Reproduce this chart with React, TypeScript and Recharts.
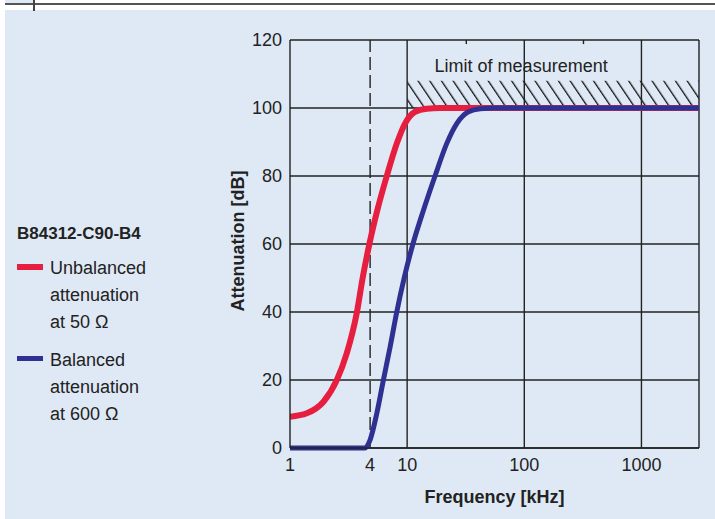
import React from 'react';
import {
    LineChart, Line, XAxis, YAxis, CartesianGrid, ReferenceLine, ReferenceArea, ReferenceDot,
} from 'recharts';

// frequency positions (kHz, log axis)
const RED_FREQ = [1, 1.39, 1.93, 2.51, 3.05, 3.72, 4.17, 4.76, 5.57, 6.7, 8.17, 9.61, 11.7, 14.7, 19.1, 3100];
const RED_ATT = [9.2, 10.2, 13.6, 20, 27.8, 39.8, 50, 60, 70, 80, 89.6, 95.5, 98.9, 99.8, 100, 100];

const BLUE_FREQ = [1, 4.37, 4.83, 5.51, 6.27, 7.16, 8.13, 9.43, 11.2, 13.8, 17.3, 21.8, 26.6, 33.4, 42.1, 56.5, 3100];
const BLUE_ATT = [0, 0, 2.4, 10.2, 20, 29.8, 39.8, 50, 60, 70, 80, 89.6, 95.5, 98.9, 99.8, 100, 100];

const X_TICKS = [1, 4.83, 10, 100, 1000];
const X_TICK_LABELS = ['1', '4', '10', '100', '1000'];
const Y_TICKS = [0, 20, 40, 60, 80, 100, 120];
const GRID_X = [10, 100, 1000, 3100];
const MINOR_TOP_X = [32, 320];
const CUTOFF_X = 4.83;
const LIMIT = { from: 10, to: 3100, low: 100, high: 108 };

const redData = RED_FREQ.map((f, i) => ({ f, att: RED_ATT[i] }));
const blueData = BLUE_FREQ.map((f, i) => ({ f, att: BLUE_ATT[i] }));

const RED = '#e61e3f';
const BLUE = '#2e3192';
const INK = '#222';
const FONT = '"Liberation Sans", Arial, sans-serif';

export default function App() {
    return (
        <div style={{ position: 'absolute', left: 0, top: 0, width: 715, height: 519, background: '#fff', fontFamily: FONT, color: INK }}>
            <div style={{ position: 'absolute', left: 5, top: 10, width: 710, height: 509, background: '#dfe9f5' }} />
            <div style={{ position: 'absolute', left: 5, top: 0, width: 28, height: 3, background: '#dfe9f5' }} />
            <div style={{ position: 'absolute', left: 5, top: 3, width: 710, height: 2, background: '#555' }} />
            <div style={{ position: 'absolute', left: 33, top: 0, width: 2, height: 11, background: '#444' }} />

            <div style={{ position: 'absolute', left: 17, top: 220, fontSize: 17, fontWeight: 'bold', lineHeight: '27px' }}>B84312-C90-B4</div>
            <div style={{ position: 'absolute', left: 17, top: 264, width: 26, height: 6, background: RED }} />
            <div style={{ position: 'absolute', left: 50, top: 255, fontSize: 18, lineHeight: '27px' }}>
                Unbalanced<br />attenuation<br />at 50 Ω
            </div>
            <div style={{ position: 'absolute', left: 17, top: 356, width: 26, height: 5, background: BLUE }} />
            <div style={{ position: 'absolute', left: 50, top: 347, fontSize: 18, lineHeight: '27px' }}>
                Balanced<br />attenuation<br />at 600 Ω
            </div>

            <div style={{ position: 'absolute', left: 0, top: 0 }}>
                <LineChart width={715} height={519} margin={{ top: 40, right: 16, bottom: 0, left: 230 }}>
                    <defs>
                        <pattern id="hatch" patternUnits="userSpaceOnUse" width="9.7" height="9.7" patternTransform="rotate(-34)">
                            <line x1="0" y1="0" x2="0" y2="9.7" stroke="#111" strokeWidth="2.6" />
                        </pattern>
                    </defs>
                    <CartesianGrid vertical={false} stroke={INK} strokeWidth={1.4} />
                    <ReferenceArea
                        x1={LIMIT.from} x2={LIMIT.to} y1={LIMIT.low} y2={LIMIT.high}
                        fill="url(#hatch)" fillOpacity={1} stroke="none"
                    />
                    {GRID_X.map(x => (
                        <ReferenceLine key={x} x={x} stroke={INK} strokeWidth={1.4} />
                    ))}
                    <ReferenceLine x={CUTOFF_X} stroke={INK} strokeWidth={1.4} strokeDasharray="13 5" />
                    {MINOR_TOP_X.map(x => (
                        <ReferenceLine key={`m${x}`} segment={[{ x, y: 120 }, { x, y: 118.8 }]} stroke={INK} strokeWidth={1.4} />
                    ))}
                    <ReferenceDot
                        x={94} y={112.6} r={1} fill="none" stroke="none"
                        label={{ value: 'Limit of measurement', position: 'center', fill: INK, fontSize: 18, fontFamily: FONT }}
                    />
                    <XAxis
                        dataKey="f" type="number" scale="log" domain={[1, 3100]} allowDataOverflow
                        ticks={X_TICKS} tickFormatter={(v: number) => X_TICK_LABELS[X_TICKS.indexOf(v)] ?? ''}
                        height={71} tickLine={false} tickMargin={4}
                        axisLine={{ stroke: INK, strokeWidth: 1.4 }}
                        tick={{ fill: INK, fontSize: 18, fontFamily: FONT }}
                        label={({ viewBox }: any) => (
                            <text x={viewBox.x + viewBox.width / 2} y={viewBox.y + 55} textAnchor="middle"
                                fill={INK} fontSize={18} fontWeight="bold" fontFamily={FONT}>
                                Frequency [kHz]
                            </text>
                        )}
                    />
                    <YAxis
                        type="number" domain={[0, 120]} ticks={Y_TICKS} width={60}
                        tickLine={false} tickMargin={2}
                        axisLine={{ stroke: INK, strokeWidth: 1.4 }}
                        tick={{ fill: INK, fontSize: 18, fontFamily: FONT }}
                        label={({ viewBox }: any) => {
                            const cx = viewBox.x + 8;
                            const cy = viewBox.y + viewBox.height / 2 - 3;
                            return (
                                <text x={cx} y={cy} transform={`rotate(-90, ${cx}, ${cy})`} textAnchor="middle"
                                    dominantBaseline="central" fill={INK} fontSize={18} fontWeight="bold" fontFamily={FONT}>
                                    Attenuation [dB]
                                </text>
                            );
                        }}
                    />
                    <Line data={redData} dataKey="att" type="monotone" stroke={RED} strokeWidth={6} dot={false} isAnimationActive={false} />
                    <Line data={blueData} dataKey="att" type="monotone" stroke={BLUE} strokeWidth={5} dot={false} isAnimationActive={false} />
                </LineChart>
            </div>
        </div>
    );
}
